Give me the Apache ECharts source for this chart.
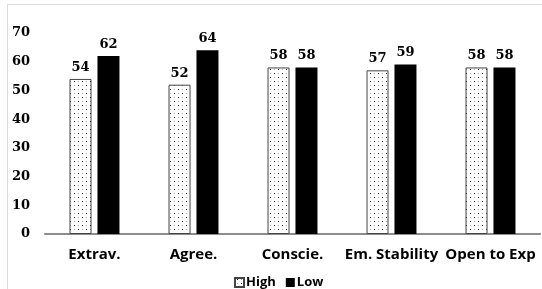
<!DOCTYPE html>
<html>
<head>
<meta charset="utf-8">
<script src="https://cdn.jsdelivr.net/npm/echarts@6/dist/echarts.min.js"></script>
<style>
  html, body { margin: 0; padding: 0; background: #fff; }
  #wrap { position: absolute; left: 0; top: 0; width: 542px; height: 289px; }
  #frame { position: absolute; left: 7px; top: 4px; width: 540px; height: 290px;
           border-left: 1px solid #dcdcdc; border-top: 1px solid #dcdcdc; }
  #chart { position: absolute; left: 0; top: 0; width: 542px; height: 289px; }
</style>
</head>
<body>
<div id="wrap">
  <div id="frame"></div>
  <div id="chart"></div>
</div>
<script>
// 数据
var categories = ['Extrav.', 'Agree.', 'Conscie.', 'Em. Stability', 'Open to Exp'];
var highValues = [54, 52, 58, 57, 58];
var lowValues = [62, 64, 58, 59, 58];
var seriesNames = ['High', 'Low'];

// 点状填充
function makeDots() {
    var c = document.createElement('canvas');
    c.width = 8; c.height = 8;
    var ctx = c.getContext('2d');
    ctx.fillStyle = '#fff';
    ctx.fillRect(0, 0, 8, 8);
    ctx.fillStyle = '#222';
    ctx.fillRect(2, 1, 1, 1);
    ctx.fillRect(6, 5, 1, 1);
    ctx.fillStyle = '#aaa';
    ctx.fillRect(6, 1, 1, 1);
    ctx.fillRect(2, 5, 1, 1);
    return c;
}

var chart = echarts.init(document.getElementById('chart'));
var numFont = '"DejaVu Serif", serif';
var txtFont = '"Open Sans", Lato, sans-serif';

var option = {
    animation: false,
    grid: { left: 45, right: 2, top: 33, bottom: 55 },
    legend: {
        data: seriesNames,
        icon: 'rect',
        left: 229,
        top: 271,
        itemWidth: 9,
        itemHeight: 9,
        itemGap: 10,
        textStyle: { fontFamily: txtFont, fontWeight: 'bold', fontSize: 13, color: '#000', padding: [0, 0, 0, -3] }
    },
    xAxis: {
        type: 'category',
        data: categories,
        axisLine: { lineStyle: { color: '#8c8c8c', width: 2 } },
        axisTick: { show: false },
        axisLabel: { fontFamily: txtFont, fontWeight: 'bold', fontSize: 15, color: '#000', margin: 13, interval: 0 }
    },
    yAxis: {
        type: 'value',
        min: 0,
        max: 70,
        interval: 10,
        axisLine: { show: false },
        axisTick: { show: false },
        splitLine: { show: false },
        axisLabel: { fontFamily: numFont, fontWeight: 'bold', fontSize: 13, color: '#000', margin: 15 }
    },
    series: [
        {
            name: seriesNames[0],
            type: 'bar',
            data: highValues,
            barWidth: 22,
            barGap: '27%',
            itemStyle: {
                color: { image: makeDots(), repeat: 'repeat' },
                borderColor: '#444',
                borderWidth: 1
            },
            label: { show: true, position: 'top', distance: 5, fontFamily: numFont, fontWeight: 'bold', fontSize: 13, color: '#000' }
        },
        {
            name: seriesNames[1],
            type: 'bar',
            data: lowValues,
            barWidth: 22,
            barGap: '27%',
            itemStyle: { color: '#000' },
            label: { show: true, position: 'top', distance: 5, fontFamily: numFont, fontWeight: 'bold', fontSize: 13, color: '#000' }
        }
    ]
};
chart.setOption(option);
</script>
</body>
</html>
